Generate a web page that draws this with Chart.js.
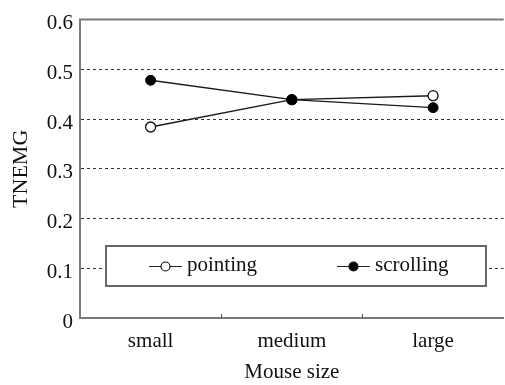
<!DOCTYPE html>
<html>
<head>
<meta charset="utf-8">
<script src="https://cdn.jsdelivr.net/npm/chart.js@4/dist/chart.umd.min.js"></script>
<style>
  html, body { margin: 0; padding: 0; background: #fff; overflow: hidden; }
  #wrap { width: 510px; height: 385px; position: relative; }
</style>
</head>
<body>
<div id="wrap"><canvas id="c"></canvas></div>
<script>
// Mouse sizes on the x axis
const sizes = ['small', 'medium', 'large'];
// TNEMG per mouse size
const pointing = [0.384, 0.439, 0.447];
const scrolling = [0.478, 0.439, 0.423];
// y-axis range and step
const yTicks = [0, 0.1, 0.2, 0.3, 0.4, 0.5, 0.6];

const FONT = '"Liberation Serif", "Times New Roman", serif';
const AXIS = '#7a7a7a';

// Top frame line, inner category ticks and the boxed legend
const decorations = {
  id: 'decorations',
  beforeDatasetsDraw(chart) {
    const { ctx, chartArea: a, scales: { x } } = chart;
    ctx.save();
    ctx.strokeStyle = AXIS;
    ctx.lineWidth = 2;
    ctx.beginPath();
    ctx.moveTo(a.left - 1, a.top);
    ctx.lineTo(a.right, a.top);
    ctx.stroke();
    ctx.lineWidth = 1;
    ctx.strokeStyle = '#555';
    for (let i = 0; i < sizes.length - 1; i++) {
      const px = Math.round((x.getPixelForValue(i) + x.getPixelForValue(i + 1)) / 2) + 0.5;
      ctx.beginPath();
      ctx.moveTo(px, a.bottom);
      ctx.lineTo(px, a.bottom - 4);
      ctx.stroke();
    }
    ctx.restore();
  },
  afterDatasetsDraw(chart) {
    const { ctx } = chart;
    const bx = 106, by = 246, bw = 380, bh = 40;
    ctx.save();
    ctx.fillStyle = '#fff';
    ctx.fillRect(bx, by, bw, bh);
    ctx.strokeStyle = '#666';
    ctx.lineWidth = 2;
    ctx.strokeRect(bx, by, bw, bh);
    const cy = by + bh / 2;
    const entries = [
      { x: 149, ds: chart.data.datasets[0] },
      { x: 337, ds: chart.data.datasets[1] }
    ];
    ctx.font = '21px ' + FONT;
    ctx.textBaseline = 'middle';
    entries.forEach(e => {
      ctx.strokeStyle = '#222';
      ctx.lineWidth = 1.2;
      ctx.beginPath();
      ctx.moveTo(e.x, cy + 0.5);
      ctx.lineTo(e.x + 33, cy + 0.5);
      ctx.stroke();
      ctx.beginPath();
      ctx.arc(e.x + 16.5, cy + 0.5, 4.5, 0, Math.PI * 2);
      ctx.fillStyle = e.ds.pointBackgroundColor;
      ctx.fill();
      ctx.strokeStyle = '#111';
      ctx.stroke();
      ctx.fillStyle = '#111';
      ctx.fillText(e.ds.label, e.x + 38, cy - 1);
    });
    ctx.restore();
  }
};

new Chart(document.getElementById('c'), {
  type: 'line',
  data: {
    labels: sizes,
    datasets: [
      {
        label: 'pointing',
        data: pointing,
        order: 1,
        borderColor: '#1a1a1a',
        borderWidth: 1.4,
        pointBackgroundColor: '#fff',
        pointBorderColor: '#111',
        pointBorderWidth: 1.3,
        pointRadius: 5,
        tension: 0
      },
      {
        label: 'scrolling',
        data: scrolling,
        order: 0,
        borderColor: '#1a1a1a',
        borderWidth: 1.4,
        pointBackgroundColor: '#000',
        pointBorderColor: '#000',
        pointBorderWidth: 1,
        pointRadius: 5,
        tension: 0
      }
    ]
  },
  options: {
    responsive: true,
    maintainAspectRatio: false,
    animation: false,
    layout: { padding: { top: 11, right: 0, left: 0, bottom: 0 } },
    plugins: { legend: { display: false }, tooltip: { enabled: false } },
    scales: {
      x: {
        type: 'category',
        offset: true,
        grid: { display: false, drawTicks: false },
        border: { display: true, color: AXIS, width: 2 },
        ticks: { color: '#111', font: { family: FONT, size: 21 }, padding: 11, maxRotation: 0 },
        title: { display: true, text: 'Mouse size', color: '#111', font: { family: FONT, size: 21 }, padding: { top: 0, bottom: 0 } },
        afterFit(s) { s.height = 67; }
      },
      y: {
        min: 0,
        max: 0.6,
        afterBuildTicks(s) { s.ticks = yTicks.map(v => ({ value: v })); },
        grid: {
          drawTicks: false,
          color: ctx => (ctx.tick && ctx.tick.value > 0 && ctx.tick.value < 0.6) ? '#333' : 'rgba(0,0,0,0)',
          lineWidth: 1
        },
        border: { display: true, color: AXIS, width: 2, dash: [3, 3] },
        ticks: {
          color: '#111',
          font: { family: FONT, size: 21 },
          padding: 7,
          labelOffset: 4,
          callback: v => (v === 0 ? '0' : v.toFixed(1))
        },
        title: { display: true, text: 'TNEMG', color: '#111', font: { family: FONT, size: 22 }, padding: { top: 8, bottom: 0 } },
        afterFit(s) { s.width = 80; }
      }
    }
  },
  plugins: [decorations]
});
</script>
</body>
</html>
